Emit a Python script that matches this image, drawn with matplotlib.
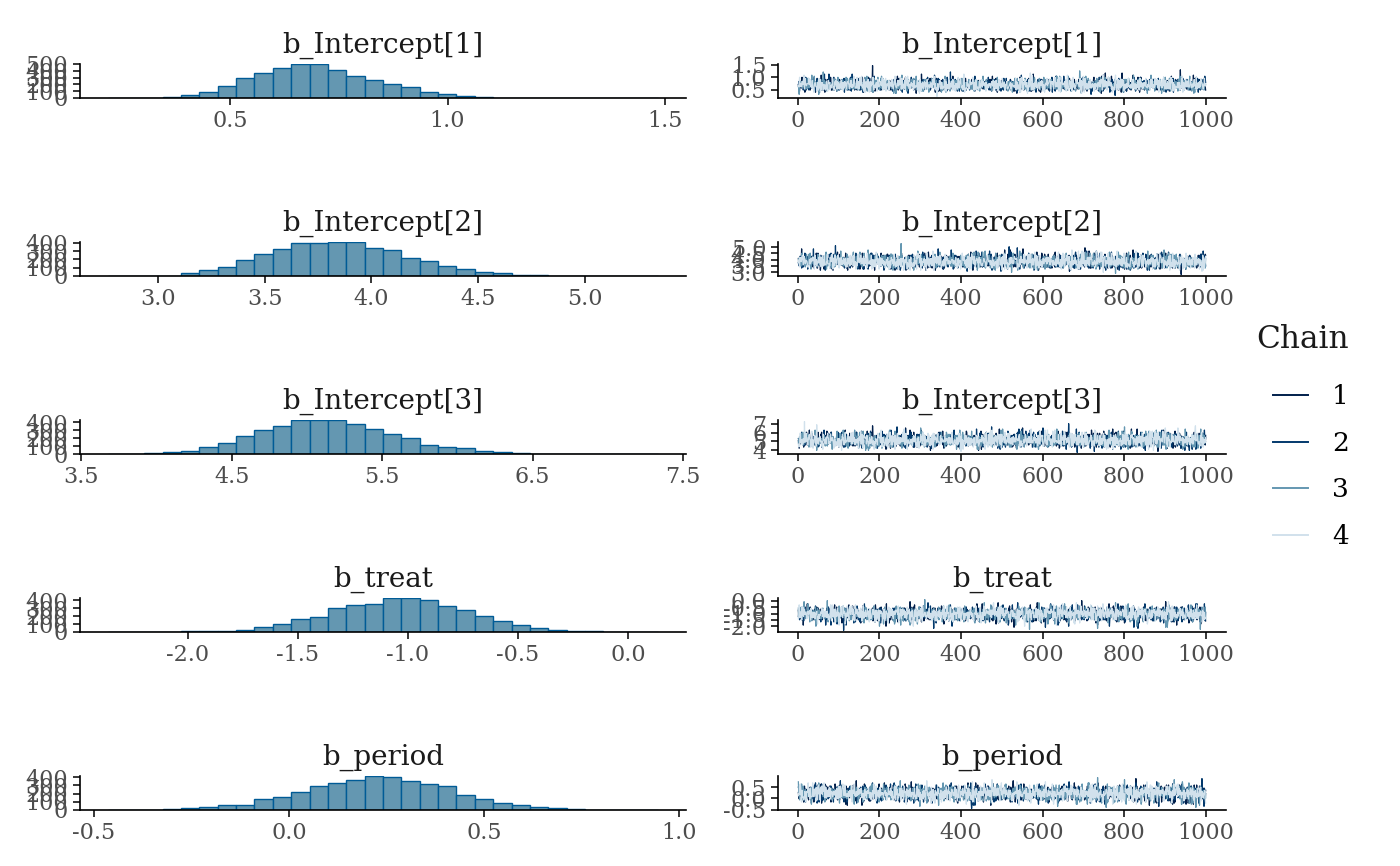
import numpy as np
import matplotlib
matplotlib.use("Agg")
import matplotlib.pyplot as plt
from matplotlib.lines import Line2D
from matplotlib.ticker import MultipleLocator, FormatStrFormatter

plt.rcParams["font.family"] = ["DejaVu Serif"]
plt.rcParams["axes.unicode_minus"] = False

# parameters, one row each
params = ["b_Intercept[1]", "b_Intercept[2]", "b_Intercept[3]", "b_treat", "b_period"]

# histogram bins: left edge of first bin and bin width
bin_start = [0.2191, 2.7626, 3.6756, -2.3642, -0.4644]
bin_width = [0.04218, 0.08613, 0.1220, 0.08342, 0.04702]

counts_int1 = [1, 1, 3, 15, 46, 88, 175, 289, 365, 437, 500, 495, 411, 330, 263,
               201, 165, 93, 62, 31, 15, 6, 3, 2, 1, 1, 0, 0, 0, 1]
counts_int2 = [1, 1, 2, 4, 37, 67, 108, 187, 270, 330, 395, 400, 408, 408, 340,
               315, 220, 175, 125, 87, 54, 33, 17, 7, 4, 2, 1, 1, 0, 1]
counts_int3 = [1, 3, 10, 28, 40, 90, 144, 230, 298, 357, 429, 426, 429, 375, 312,
               253, 203, 118, 86, 72, 40, 28, 14, 6, 3, 2, 1, 1, 0, 1]
counts_treat = [1, 2, 3, 5, 9, 14, 14, 31, 59, 95, 159, 195, 309, 344, 354,
                427, 430, 404, 331, 272, 204, 136, 91, 50, 27, 18, 9, 4, 2, 1]
counts_period = [1, 2, 4, 9, 22, 35, 61, 61, 130, 157, 213, 291, 330, 370, 413,
                 400, 352, 313, 291, 178, 130, 91, 65, 39, 22, 9, 5, 3, 2, 1]
all_counts = [counts_int1, counts_int2, counts_int3, counts_treat, counts_period]

hist_xticks = [[0.5, 1.0, 1.5], [3.0, 3.5, 4.0, 4.5, 5.0], [3.5, 4.5, 5.5, 6.5, 7.5],
               [-2.0, -1.5, -1.0, -0.5, 0.0], [-0.5, 0.0, 0.5, 1.0]]
trace_yticks = [[0.5, 1.0, 1.5], [3.0, 3.5, 4.0, 4.5, 5.0], [4, 5, 6, 7],
                [-2.0, -1.5, -1.0, -0.5, 0.0], [-0.5, 0.0, 0.5]]
trace_yfmt = ["%.1f", "%.1f", "%d", "%.1f", "%.1f"]
iter_ticks = [0, 200, 400, 600, 800, 1000]
n_iter = 1000

chains = ["1", "2", "3", "4"]
chain_colors = ["#011f4b", "#03396c", "#6497b1", "#d1e1ec"]
hist_fill = "#6497b1"
hist_edge = "#005b96"


def scramble(n, salt):
    # deterministic hash ordering, used to lay the histogram draws out as a trace
    i = np.arange(n, dtype=np.uint64) + np.uint64(salt)
    z = i * np.uint64(0x9E3779B97F4A7C15)
    z = (z ^ (z >> np.uint64(30))) * np.uint64(0xBF58476D1CE4E5B9)
    z = (z ^ (z >> np.uint64(27))) * np.uint64(0x94D049BB133111EB)
    z = z ^ (z >> np.uint64(31))
    return np.argsort(z)


W, H = 1400, 866
fig = plt.figure(figsize=(W / 100, H / 100), dpi=100)

title_kw = dict(fontsize=20, color="#1a1a1a", pad=8)


def style(ax):
    for s in ["top", "right"]:
        ax.spines[s].set_visible(False)
    for s in ["left", "bottom"]:
        ax.spines[s].set_linewidth(1.2)
        ax.spines[s].set_color("black")
    ax.tick_params(length=5, width=1.1, color="black", labelcolor="#4d4d4d",
                   labelsize=16, pad=3.5)
    ax.set_facecolor("none")


for k, name in enumerate(params):
    counts = np.array(all_counts[k])
    w = bin_width[k]
    edges = bin_start[k] + w * np.arange(len(counts) + 1)
    centers = (edges[:-1] + edges[1:]) / 2

    bottom_px = 98 + 178 * k
    top_px = bottom_px - 34

    # histogram
    axh = fig.add_axes([80 / W, 1 - bottom_px / H, 606 / W, (bottom_px - top_px) / H])
    axh.bar(centers, counts, width=w, color=hist_fill, edgecolor=hist_edge,
            linewidth=1.0)
    axh.set_xlim(edges[0] - 1.5 * w, edges[-1] + 1.5 * w)
    axh.set_ylim(0, counts.max())
    axh.set_xticks(hist_xticks[k])
    axh.xaxis.set_major_formatter(FormatStrFormatter("%.1f"))
    axh.yaxis.set_major_locator(MultipleLocator(100))
    axh.set_title(name, **title_kw)
    style(axh)

    # trace
    draws = np.repeat(centers, counts)
    draws = draws[scramble(len(draws), 7919 * (k + 1))]
    per_chain = draws.reshape(len(chains), -1)
    it = np.arange(1, per_chain.shape[1] + 1)

    axt = fig.add_axes([778 / W, 1 - bottom_px / H, 448 / W, (bottom_px - top_px) / H])
    for c in range(len(chains)):
        axt.plot(it, per_chain[c], color=chain_colors[c], lw=0.9)
    lo, hi = draws.min(), draws.max()
    pad = 0.05 * (hi - lo)
    axt.set_ylim(lo - pad, hi + pad)
    xpad = 0.05 * (n_iter - 1)
    axt.set_xlim(1 - xpad, n_iter + xpad)
    axt.set_xticks(iter_ticks)
    axt.set_yticks(trace_yticks[k])
    axt.yaxis.set_major_formatter(FormatStrFormatter(trace_yfmt[k]))
    axt.set_title(name, **title_kw)
    style(axt)

# legend: title placed on its own so the gap to the keys matches
fig.text(1256 / W, 1 - 340 / H, "Chain", fontsize=22.5, color="#1a1a1a",
         ha="left", va="center")
handles = [Line2D([], [], color=c, lw=1.4) for c in chain_colors]
fig.legend(handles, chains, loc="upper left",
           bbox_to_anchor=(1260 / W, 1 - 371 / H), frameon=False,
           fontsize=19, handlelength=1.33, handletextpad=0.9,
           labelspacing=0.82, borderpad=0.0)

fig.savefig("out.png", dpi=100)
